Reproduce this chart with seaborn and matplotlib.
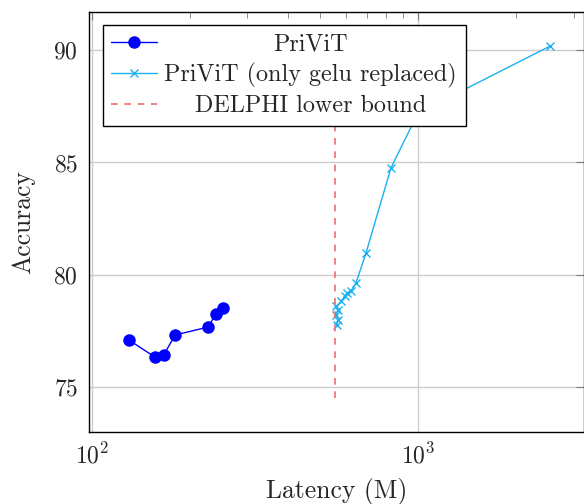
import matplotlib
matplotlib.use("Agg")
import matplotlib.pyplot as plt
import matplotlib.transforms as mtransforms
import seaborn as sns
import pandas as pd

# PriViT sweep
privit_latency = [130, 156, 166, 180, 227, 240, 252]
privit_acc = [77.09, 76.34, 76.42, 77.32, 77.67, 78.25, 78.52]

# PriViT with only gelu replaced
gelu_latency = [565, 568, 562, 568, 562, 582, 596, 607, 624, 645, 693, 826, 1000, 2540]
gelu_acc = [77.77, 78.0, 78.22, 78.44, 78.59, 78.82, 79.04, 79.19, 79.29, 79.62,
            80.97, 84.75, 87.2, 90.18]

# DELPHI lower bound (vertical line)
delphi_latency = [557, 557]
delphi_acc = [74.5, 91.0]

labels = ["PriViT", "PriViT (only gelu replaced)", "DELPHI lower bound"]

sns.set_theme(style="whitegrid")
plt.rcParams["font.family"] = ["cmr10", "DejaVu Serif"]
plt.rcParams["mathtext.fontset"] = "cm"
plt.rcParams["axes.formatter.use_mathtext"] = True
plt.rcParams["font.size"] = 17

fig = plt.figure(figsize=(5.84, 5.04), dpi=100)
ax = fig.add_axes([89 / 584, 1 - 432 / 504, (584 - 89) / 584, (432 - 12) / 504])

df1 = pd.DataFrame({"lat": privit_latency, "acc": privit_acc})
df2 = pd.DataFrame({"lat": gelu_latency, "acc": gelu_acc})
df3 = pd.DataFrame({"lat": delphi_latency, "acc": delphi_acc})

sns.lineplot(data=df1, x="lat", y="acc", ax=ax, sort=False, estimator=None,
             color="#0000ff", linewidth=1.0, marker="o", markersize=9,
             markeredgewidth=0, label=labels[0])
sns.lineplot(data=df2, x="lat", y="acc", ax=ax, sort=False, estimator=None,
             color="#1cb0f0", linewidth=1.0, marker="x", markersize=6,
             markeredgewidth=1.0, markeredgecolor="#1cb0f0", label=labels[1])
sns.lineplot(data=df3, x="lat", y="acc", ax=ax, sort=False, estimator=None,
             color="#f26b6b", linewidth=1.2, linestyle=(0, (4, 4)),
             label=labels[2])

ax.set_xscale("log")
ax.set_xlim(98, 3230)
ax.set_ylim(73.0, 91.7)
ax.set_yticks([75, 80, 85, 90])
ax.set_xlabel("Latency (M)", fontsize=18.5, labelpad=7)
ax.set_ylabel("Accuracy", fontsize=18.5, labelpad=13)

ax.grid(True, which="major", color="#cccccc", linewidth=1.0)
ax.grid(False, which="minor")
for sp in ax.spines.values():
    sp.set_color("black")
    sp.set_linewidth(1.0)
ax.tick_params(which="both", direction="in", top=True, right=True,
               color="#7f7f7f", labelsize=17)
ax.tick_params(which="major", length=6, width=0.8, pad=8)
ax.tick_params(which="minor", length=4, width=0.6)
ax.tick_params(axis="y", which="minor", left=False, right=False)

leg = ax.legend(loc="upper left", bbox_to_anchor=(0.028, 0.969), borderaxespad=0,
                fancybox=False, framealpha=1, edgecolor="black", fontsize=17.4,
                handlelength=1.9, handletextpad=0.3, labelspacing=0.3,
                borderpad=0.35)
leg.get_frame().set_linewidth(1.0)

# centre the legend labels like pgfplots does
fig.canvas.draw()
texts = leg.get_texts()
boxes = [t.get_window_extent() for t in texts]
x0 = min(b.x0 for b in boxes)
wmax = max(b.width for b in boxes)
xc = x0 + wmax / 2
for t in texts:
    xa, ya = t.get_transform().transform(t.get_position())
    fig.text(xc, ya, t.get_text(), ha="center", va="baseline", fontsize=17.4,
             transform=mtransforms.IdentityTransform(), zorder=10)
    t.set_visible(False)

fig.savefig("out.png", dpi=100)
